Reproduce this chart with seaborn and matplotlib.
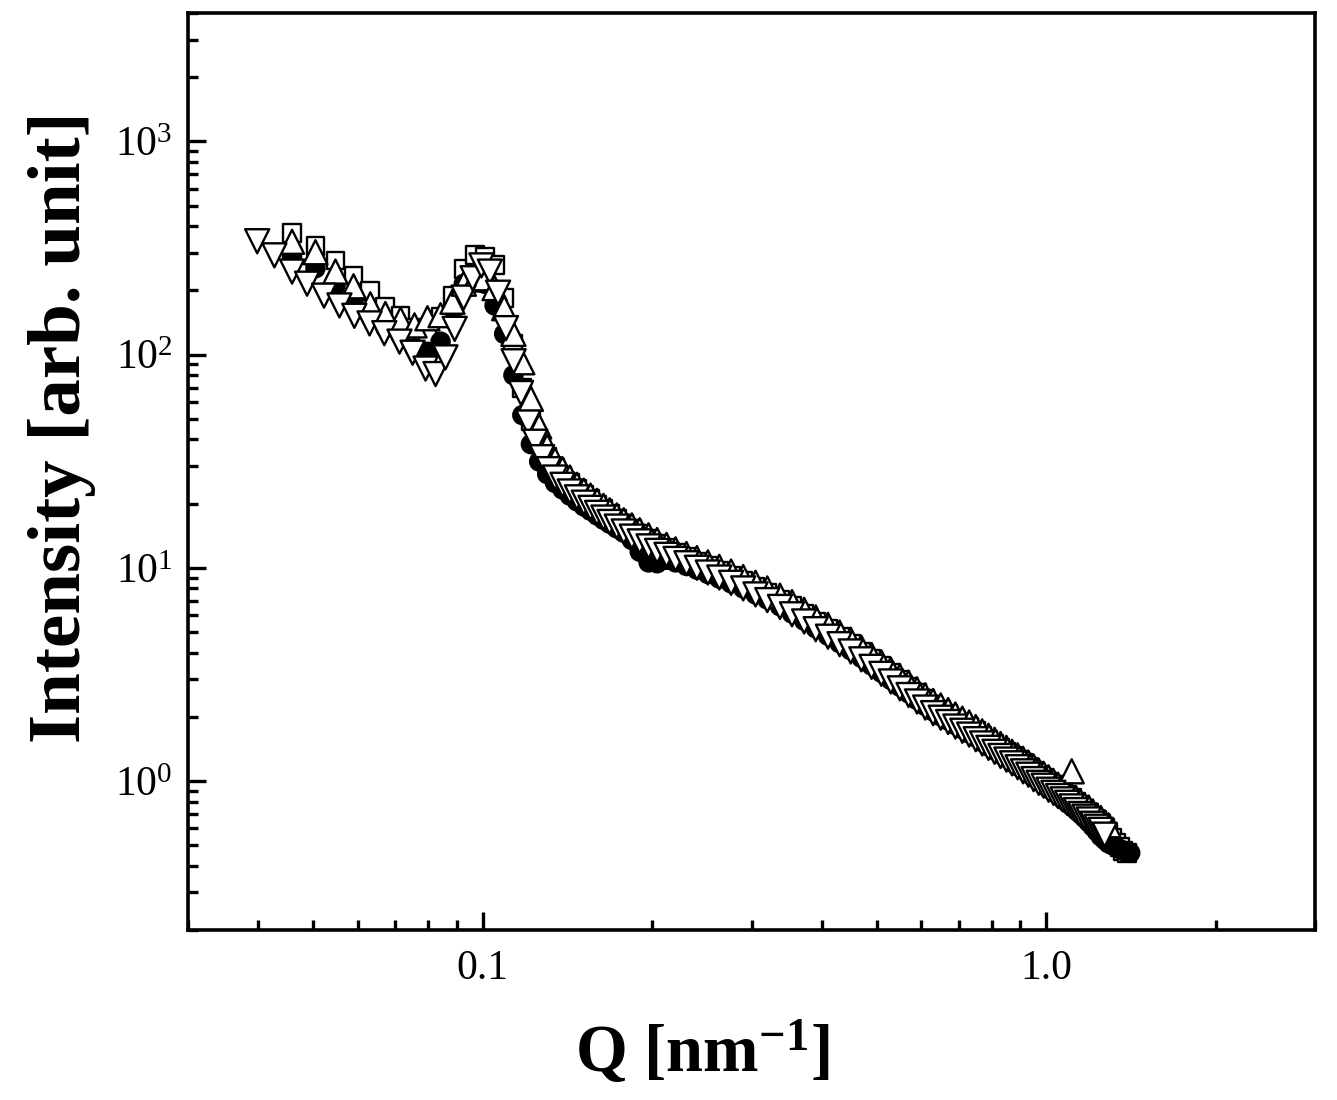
import matplotlib
matplotlib.use("Agg")
import matplotlib.pyplot as plt
import numpy as np
import pandas as pd
import seaborn as sns
from matplotlib.ticker import FixedLocator, FixedFormatter, LogLocator, NullFormatter, LogFormatterSciNotation

# ---------------- data ----------------
Q_MAIN = [0.0459, 0.0505, 0.0548, 0.0590, 0.0632, 0.0672, 0.0715, 0.0757, 0.0798, 0.0842,
          0.0884, 0.0926, 0.0968, 0.1008, 0.1050, 0.1092, 0.1134, 0.1176, 0.1218, 0.1260,
          0.1302, 0.1344, 0.1386, 0.1428, 0.1470, 0.1512, 0.1554, 0.1596, 0.1638, 0.168,
          0.173, 0.178, 0.184, 0.190, 0.197, 0.204, 0.212, 0.220, 0.230, 0.240,
          0.251, 0.263, 0.276, 0.290, 0.305, 0.320, 0.337, 0.354, 0.372, 0.390,
          0.41, 0.43, 0.45, 0.47, 0.49, 0.51, 0.53, 0.55, 0.57, 0.59,
          0.61, 0.63, 0.65, 0.67, 0.69, 0.71, 0.73, 0.75, 0.77, 0.79,
          0.81, 0.83, 0.85, 0.87, 0.89, 0.91, 0.93, 0.95, 0.97, 0.99,
          1.01, 1.03, 1.05, 1.07, 1.09, 1.11, 1.13, 1.15, 1.17, 1.19,
          1.21, 1.23, 1.25, 1.27, 1.29, 1.31, 1.33, 1.35, 1.37, 1.39]

q_square = Q_MAIN
I_square = [373, 322, 276, 235, 198, 168, 151, 133, 123, 150,
            189, 253, 293, 288, 262, 185, 112, 70, 49, 39,
            33, 29.5, 27, 25, 23.5, 22, 21, 19.8, 18.8, 17.9,
            17, 16.1, 15.2, 14.4, 13.6, 13.0, 12.4, 11.8, 11.2, 10.7,
            10.2, 9.7, 9.2, 8.7, 8.15, 7.65, 7.1, 6.6, 6.1, 5.6,
            5.15, 4.75, 4.4, 4.05, 3.73, 3.45, 3.2, 2.97, 2.77, 2.58,
            2.42, 2.28, 2.16, 2.06, 1.96, 1.88, 1.80, 1.71, 1.63, 1.56,
            1.49, 1.43, 1.37, 1.31, 1.26, 1.21, 1.16, 1.11, 1.07, 1.03,
            0.99, 0.96, 0.92, 0.89, 0.86, 0.83, 0.80, 0.77, 0.74, 0.71,
            0.68, 0.66, 0.63, 0.60, 0.57, 0.54, 0.51, 0.49, 0.47, 0.46]

q_circle = Q_MAIN + [1.41]
I_circle = [288, 254, 211, 179, 151, 133, 123, 107, 103, 115,
            159, 215, 240, 215, 170, 125, 80, 52, 38, 31.5,
            27.5, 25, 23.3, 21.8, 20.5, 19.4, 18.5, 17.6, 16.8, 16.1,
            15.3, 14.6, 13.5, 11.9, 10.6, 10.5, 10.9, 10.6, 10.2, 9.8,
            9.35, 8.9, 8.45, 8.0, 7.5, 7.1, 6.6, 6.1, 5.65, 5.2,
            4.8, 4.43, 4.1, 3.78, 3.48, 3.22, 2.98, 2.77, 2.58, 2.40,
            2.25, 2.12, 2.01, 1.92, 1.83, 1.75, 1.67, 1.60, 1.52, 1.45,
            1.39, 1.33, 1.28, 1.22, 1.17, 1.13, 1.08, 1.04, 1.00, 0.96,
            0.92, 0.89, 0.86, 0.82, 0.79, 0.76, 0.73, 0.70, 0.67, 0.64,
            0.61, 0.58, 0.55, 0.53, 0.51, 0.50, 0.49, 0.48, 0.47, 0.465,
            0.46]

q_up = Q_MAIN[:95]
I_up = [338, 302, 245, 209, 172, 155, 146, 137, 148, 153,
        177, 215, 225, 228, 205, 165, 125, 92, 62, 46,
        37, 32, 29, 26.5, 24.5, 23, 21.8, 20.6, 19.5, 18.6,
        17.6, 16.7, 15.8, 15.0, 14.2, 13.5, 12.8, 12.2, 11.6, 11.1,
        10.6, 10.1, 9.6, 9.05, 8.5, 8.0, 7.4, 6.9, 6.35, 5.85,
        5.4, 4.97, 4.6, 4.22, 3.9, 3.6, 3.33, 3.1, 2.89, 2.69,
        2.52, 2.37, 2.26, 2.15, 2.05, 1.96, 1.88, 1.79, 1.71, 1.63,
        1.56, 1.49, 1.43, 1.37, 1.32, 1.27, 1.22, 1.17, 1.12, 1.08,
        1.04, 1.00, 0.96, 0.93, 0.90, 1.11, 0.83, 0.80, 0.77, 0.75,
        0.72, 0.69, 0.67, 0.64, 0.62]

q_down = [0.0398, 0.0427, 0.0459, 0.0488, 0.0523, 0.0557, 0.0592, 0.0630, 0.0669, 0.0712,
          0.0751, 0.0792, 0.0825, 0.0859, 0.0892, 0.0925, 0.0960, 0.0995, 0.1030, 0.1065,
          0.1100, 0.1135, 0.1170, 0.1205, 0.1240, 0.1275, 0.1310] + Q_MAIN[21:94]
I_down = [340, 292, 245, 215, 189, 170, 152, 140, 126, 115,
          102, 86, 81, 97, 132, 185, 228, 262, 245, 195,
          133, 93, 66, 48, 39, 33, 29,
          26.5, 24.5, 22.8, 21.4, 20.2, 19.1, 18.1, 17.2, 16.4,
          15.6, 14.8, 14.0, 13.3, 12.6, 12.0, 11.5, 11.0, 10.5, 10.0,
          9.5, 9.0, 8.5, 8.0, 7.5, 7.05, 6.55, 6.05, 5.6, 5.15,
          4.75, 4.38, 4.05, 3.72, 3.43, 3.18, 2.93, 2.72, 2.53, 2.36,
          2.21, 2.08, 1.98, 1.89, 1.80, 1.72, 1.65, 1.57, 1.50, 1.43,
          1.37, 1.31, 1.26, 1.21, 1.16, 1.11, 1.07, 1.02, 0.98, 0.95,
          0.91, 0.88, 0.85, 0.82, 0.79, 0.76, 0.73, 0.70, 0.68, 0.66,
          0.63, 0.61, 0.59, 0.56]

x_ticks = [0.1, 1.0]
x_ticklabels = ["0.1", "1.0"]

# ---------------- table ----------------
frames = []
for name, q, I in [("square", q_square, I_square), ("circle", q_circle, I_circle),
                   ("up", q_up, I_up), ("down", q_down, I_down)]:
    frames.append(pd.DataFrame({"Q": q, "I": I, "series": name}))
df = pd.concat(frames, ignore_index=True)

# ---------------- style ----------------
sns.set_style("ticks")
plt.rcParams["font.family"] = ["Liberation Serif", "DejaVu Serif"]
plt.rcParams["mathtext.fontset"] = "custom"
plt.rcParams["mathtext.rm"] = "Liberation Serif"
plt.rcParams["mathtext.bf"] = "Liberation Serif:bold"
plt.rcParams["mathtext.it"] = "Liberation Serif:italic"
for key in ["text.color", "axes.labelcolor", "xtick.color", "ytick.color",
            "xtick.labelcolor", "ytick.labelcolor", "axes.edgecolor"]:
    plt.rcParams[key] = "black"

fig = plt.figure(figsize=(13.37, 11), dpi=100)
ax = fig.add_axes([188 / 1337, 1 - 930 / 1100, (1315 - 188) / 1337, (930 - 13) / 1100])

sns.scatterplot(data=df, x="Q", y="I", hue="series", style="series", size="series",
                palette={"square": "white", "circle": "black", "up": "white", "down": "white"},
                markers={"square": "s", "circle": "o", "up": "^", "down": "v"},
                sizes={"square": 165, "circle": 170, "up": 300, "down": 300},
                edgecolor="black", linewidth=1.7, legend=False, ax=ax)

ax.set_xscale("log")
ax.set_yscale("log")
ax.set_xlim(0.03, 3.0)
ax.set_ylim(0.2, 4000)

ax.xaxis.set_major_locator(FixedLocator(x_ticks))
ax.xaxis.set_major_formatter(FixedFormatter(x_ticklabels))
ax.xaxis.set_minor_locator(LogLocator(base=10, subs=np.arange(2, 10), numticks=20))
ax.xaxis.set_minor_formatter(NullFormatter())
ax.yaxis.set_major_locator(LogLocator(base=10, numticks=20))
ax.yaxis.set_major_formatter(LogFormatterSciNotation())
ax.yaxis.set_minor_locator(LogLocator(base=10, subs=np.arange(2, 10), numticks=20))
ax.yaxis.set_minor_formatter(NullFormatter())

ax.tick_params(which="both", direction="in", top=False, right=False, width=2.4,
               labelsize=30, color="black", labelcolor="black")
ax.tick_params(which="major", length=13)
ax.tick_params(which="minor", length=7)
ax.tick_params(axis="y", pad=11)
ax.tick_params(axis="x", pad=14)
for s in ax.spines.values():
    s.set_linewidth(2.6)
    s.set_color("black")

ax.set_xlabel("")
ax.set_ylabel("")
fig.text(62 / 1337, 1 - 427 / 1100, "Intensity [arb. unit]", rotation=90,
         fontsize=54, fontweight="bold", ha="center", va="center", color="black")
fig.text(702 / 1337, 1 - 1052 / 1100, r"Q [nm$^{\mathbf{-1}}$]",
         fontsize=48, fontweight="bold", ha="center", va="center", color="black")

fig.savefig("out.png", dpi=100, facecolor="white")
